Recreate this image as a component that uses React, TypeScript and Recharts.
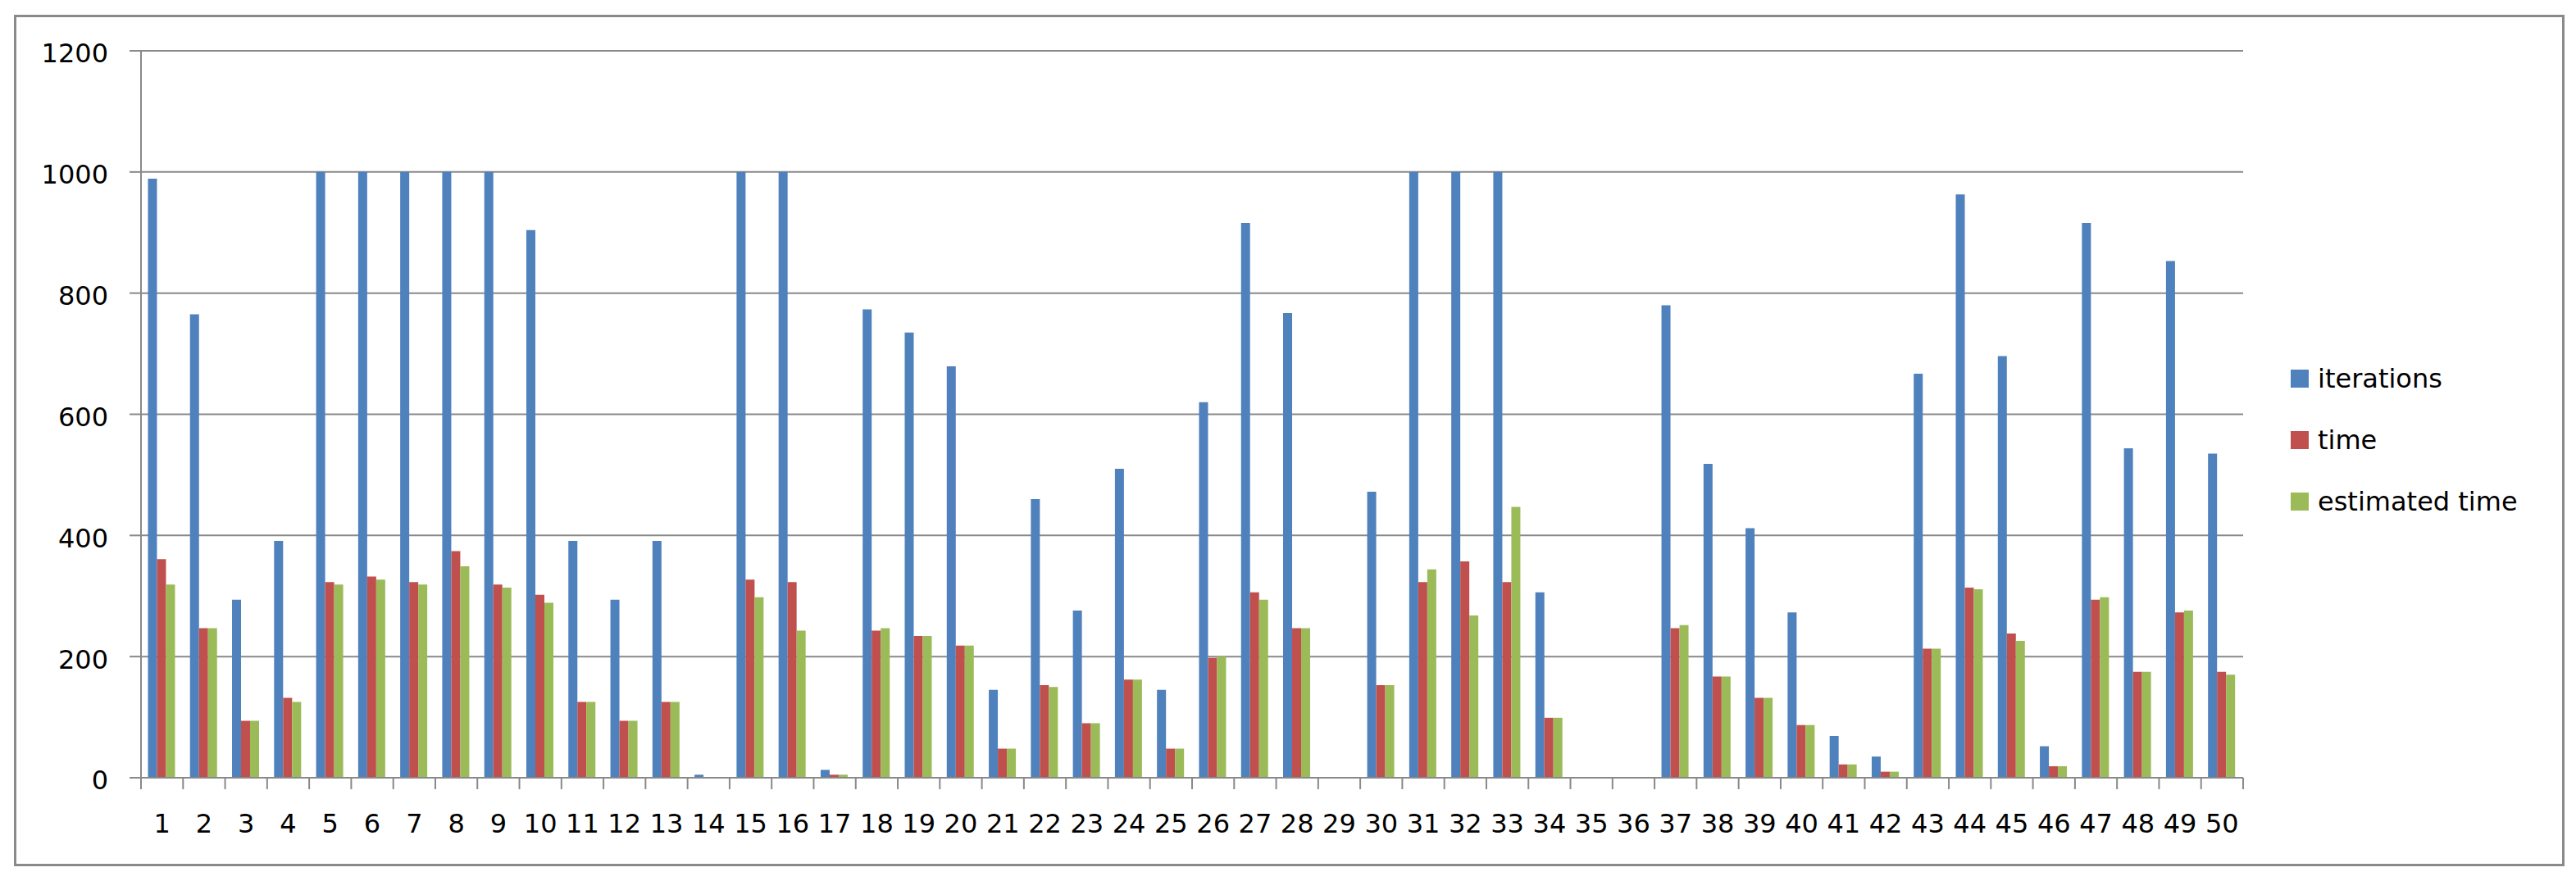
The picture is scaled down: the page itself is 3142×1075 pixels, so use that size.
import { BarChart, Bar, XAxis, YAxis, CartesianGrid, Legend } from 'recharts';

const categories = [
  '1', '2', '3', '4', '5', '6', '7', '8', '9', '10',
  '11', '12', '13', '14', '15', '16', '17', '18', '19', '20',
  '21', '22', '23', '24', '25', '26', '27', '28', '29', '30',
  '31', '32', '33', '34', '35', '36', '37', '38', '39', '40',
  '41', '42', '43', '44', '45', '46', '47', '48', '49', '50',
];

const iterations = [
  989, 765, 294, 391, 1000, 1000, 1000, 1000, 1000, 904,
  391, 294, 391, 5, 1000, 1000, 13, 773, 735, 679,
  145, 460, 276, 510, 145, 620, 916, 767, 0, 472,
  1000, 1000, 1000, 306, 0, 0, 780, 518, 412, 273,
  69, 35, 667, 963, 696, 52, 916, 544, 853, 535,
];

const time = [
  361, 247, 94, 132, 323, 332, 323, 374, 319, 302,
  125, 94, 125, 0, 327, 323, 5, 243, 234, 218,
  48, 153, 90, 162, 48, 198, 306, 247, 0, 153,
  323, 357, 323, 99, 0, 0, 247, 167, 132, 87,
  22, 10, 213, 314, 238, 19, 294, 175, 273, 175,
];

const estimatedTime = [
  319, 247, 94, 125, 319, 327, 319, 349, 314, 289,
  125, 94, 125, 0, 298, 243, 5, 247, 234, 218,
  48, 150, 90, 162, 48, 200, 294, 247, 0, 153,
  344, 268, 447, 99, 0, 0, 252, 167, 132, 87,
  22, 10, 213, 311, 226, 19, 298, 175, 276, 170,
];

const seriesNames = ['iterations', 'time', 'estimated time'];

const yTicks = [0, 200, 400, 600, 800, 1000, 1200];

const data = categories.map((name, i) => ({
  name,
  iterations: iterations[i],
  time: time[i],
  estimated: estimatedTime[i],
}));

const FONT = '"DejaVu Sans", Verdana, sans-serif';
const AXIS_GRAY = '#898989';

// excel style: tick marks sit between categories, labels in the middle
const CategoryTick = (props: any) => {
  const { x, y, payload, index, width, visibleTicksCount } = props;
  const half =
    payload && payload.offset ? payload.offset : width / visibleTicksCount / 2;
  const last = index === visibleTicksCount - 1;
  return (
    <g>
      <line x1={x - half} y1={y} x2={x - half} y2={y + 14} stroke={AXIS_GRAY} strokeWidth={2} />
      {last && (
        <line x1={x + half} y1={y} x2={x + half} y2={y + 14} stroke={AXIS_GRAY} strokeWidth={2} />
      )}
      <text x={x} y={y + 67} textAnchor="middle" fontSize={32} fontFamily={FONT} fill="#000">
        {payload.value}
      </text>
    </g>
  );
};

const renderLegend = (props: any) => {
  const items = [...(props.payload || [])].sort(
    (a: any, b: any) => seriesNames.indexOf(a.value) - seriesNames.indexOf(b.value)
  );
  return (
    <div style={{ fontFamily: FONT, fontSize: 32, color: '#000' }}>
      {items.map((entry: any) => (
        <div key={entry.value} style={{ display: 'flex', alignItems: 'center', height: 75 }}>
          <span
            style={{
              display: 'inline-block',
              width: 22,
              height: 22,
              background: entry.color,
              marginRight: 11,
            }}
          />
          <span>{entry.value}</span>
        </div>
      ))}
    </div>
  );
};

export default function App() {
  return (
    <div style={{ position: 'absolute', left: 0, top: 0, width: 3142, height: 1075, background: '#fff' }}>
      <div
        style={{
          position: 'absolute',
          left: 17,
          top: 18,
          width: 3111,
          height: 1039,
          border: '3px solid #8a8a8a',
          boxSizing: 'border-box',
        }}
      />
      <div style={{ position: 'absolute', left: 0, top: 0 }}>
        <BarChart
          width={3142}
          height={1075}
          data={data}
          margin={{ top: 62, right: 406, bottom: 66, left: 22 }}
          barCategoryGap="16.5%"
          barGap={0}
        >
          <CartesianGrid vertical={false} stroke={AXIS_GRAY} strokeWidth={2} />
          <XAxis
            dataKey="name"
            height={60}
            interval={0}
            tickLine={false}
            tickSize={0}
            tickMargin={0}
            axisLine={{ stroke: AXIS_GRAY, strokeWidth: 2 }}
            tick={<CategoryTick />}
          />
          <YAxis
            width={150}
            domain={[0, 1200]}
            ticks={yTicks}
            interval={0}
            tickSize={14}
            tickMargin={26}
            axisLine={{ stroke: AXIS_GRAY, strokeWidth: 2 }}
            tickLine={{ stroke: AXIS_GRAY, strokeWidth: 2 }}
            tick={{ fontSize: 32, fontFamily: FONT, fill: '#000', dy: 3 }}
          />
          <Legend
            layout="vertical"
            align="center"
            verticalAlign="middle"
            content={renderLegend}
            wrapperStyle={{ left: 2794, top: 424, width: 330 }}
          />
          <Bar dataKey="iterations" name="iterations" fill="#4F81BD" isAnimationActive={false} />
          <Bar dataKey="time" name="time" fill="#C0504D" isAnimationActive={false} />
          <Bar dataKey="estimated" name="estimated time" fill="#9BBB59" isAnimationActive={false} />
        </BarChart>
      </div>
    </div>
  );
}
